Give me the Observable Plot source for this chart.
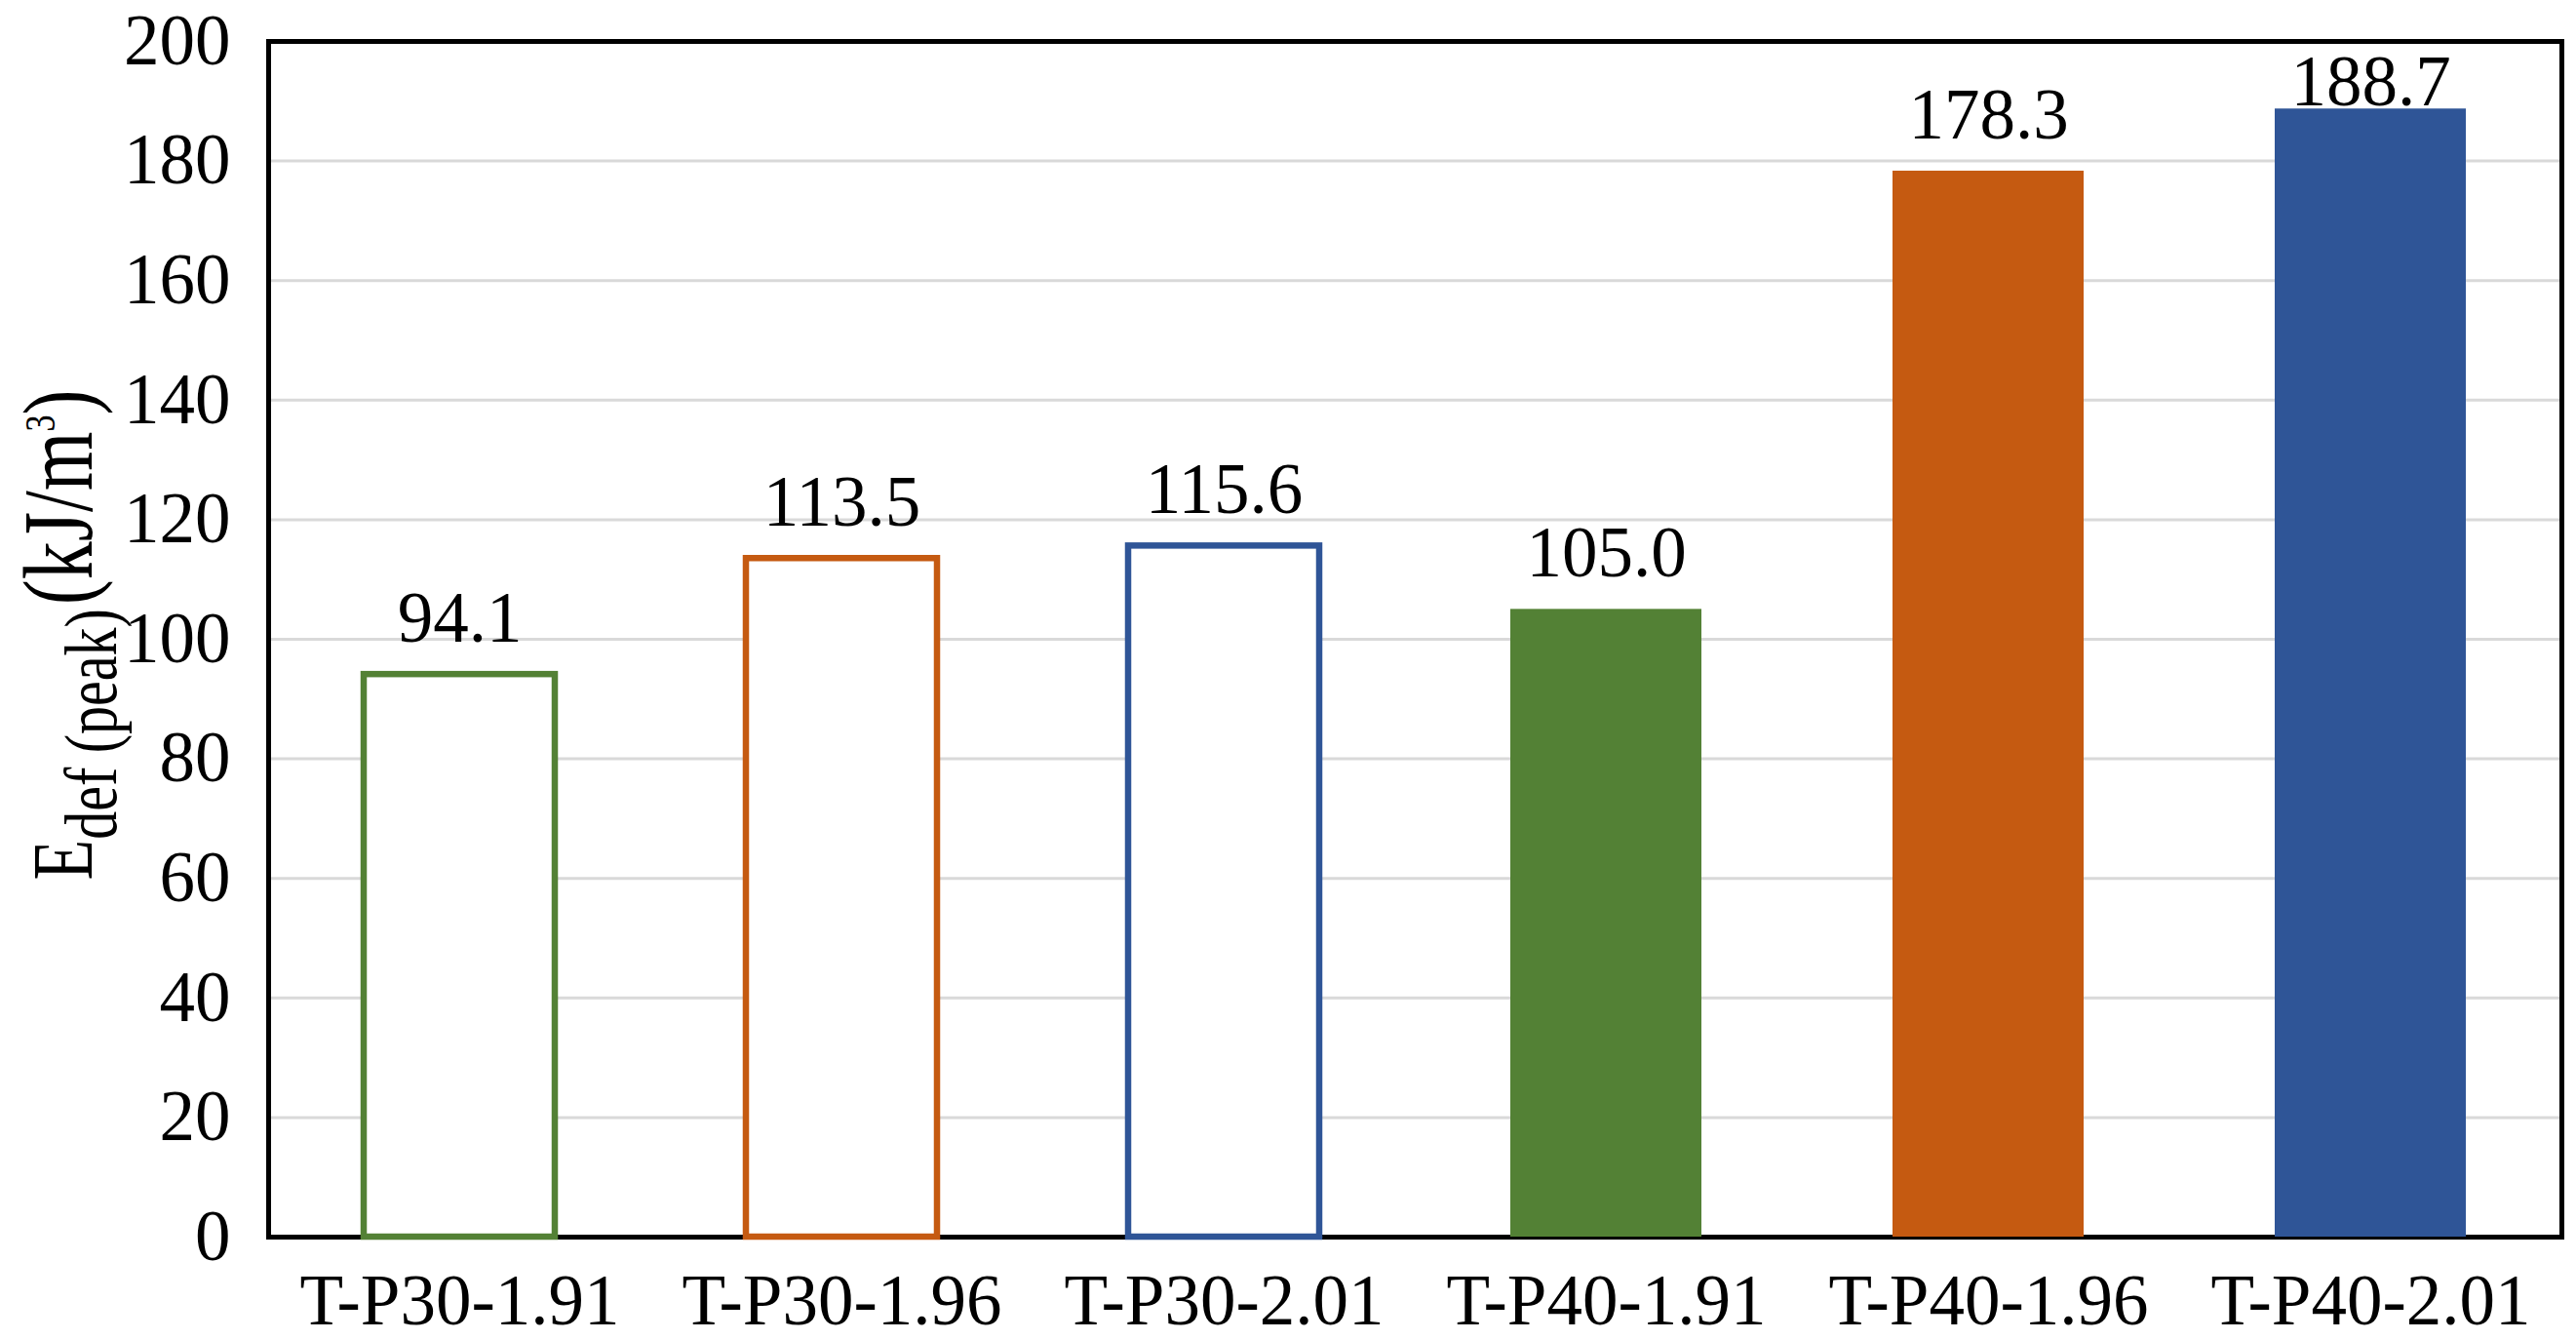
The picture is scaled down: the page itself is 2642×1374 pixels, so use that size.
<!DOCTYPE html>
<html>
<head>
<meta charset="utf-8">
<script src="https://cdn.jsdelivr.net/npm/d3@7"></script>
<script src="https://cdn.jsdelivr.net/npm/@observablehq/plot@0.6"></script>
<style>
  html, body { margin: 0; padding: 0; background: #fff; }
  #chart svg { display: block; }
</style>
</head>
<body>
<div id="chart"></div>
<script>
const categories = ["T-P30-1.91", "T-P30-1.96", "T-P30-2.01", "T-P40-1.91", "T-P40-1.96", "T-P40-2.01"];
const values = [94.1, 113.5, 115.6, 105.0, 178.3, 188.7];
const colors = ["#538135", "#C55A11", "#2F5597", "#538135", "#C55A11", "#2F5597"];
const filled = [false, false, false, true, true, true];
const yTicks = [0, 20, 40, 60, 80, 100, 120, 140, 160, 180, 200];

const data = categories.map((c, i) => ({cat: c, value: values[i], color: colors[i], filled: filled[i], label: values[i].toFixed(1)}));

const W = 2642, H = 1374;
const font = "'Liberation Serif', 'Times New Roman', serif";

const chart = Plot.plot({
  width: W,
  height: H,
  marginLeft: 275,
  marginRight: 15,
  marginTop: 42,
  marginBottom: 106,
  style: {fontFamily: font, fontSize: "72px", color: "#000", background: "#fff"},
  x: {type: "band", domain: categories, paddingInner: 0.5, paddingOuter: 0.25, label: null},
  y: {domain: [0, 200], label: null},
  marks: [
    Plot.gridY(yTicks, {stroke: "#d9d9d9", strokeOpacity: 1, strokeWidth: 3}),
    Plot.frame({stroke: "#000", strokeWidth: 5}),
    Plot.barY(data.filter(d => d.filled), {x: "cat", y: "value", fill: "color"}),
    Plot.barY(data.filter(d => !d.filled), {x: "cat", y: "value", fill: "#fff", stroke: "color", strokeWidth: 6.5}),
    Plot.axisY(yTicks, {tickSize: 0, tickPadding: 39, fontSize: 73, fill: "#000", label: null}),
    Plot.axisX({tickSize: 0, tickPadding: 38, fontSize: 73, fill: "#000", label: null}),
    Plot.text(data, {x: "cat", y: d => Math.min(d.value + 5.5, 189.3), text: "label", lineAnchor: "bottom", fontSize: 73, fill: "#000"})
  ]
});

document.getElementById("chart").appendChild(chart);

// Rotated y-axis title with subscript / superscript as real text
const svg = d3.select(chart);
const yScale = chart.scale("y");
const cy = (yScale.apply(0) + yScale.apply(200)) / 2 - 4;
const t = svg.append("text")
  .attr("transform", `translate(94,${cy}) rotate(-90) scale(1,1.3)`)
  .attr("text-anchor", "middle")
  .attr("font-family", font)
  .attr("font-size", 68)
  .attr("fill", "#000");
t.append("tspan").text("E");
t.append("tspan").attr("font-size", 58).attr("dy", 19).text("def (peak)");
t.append("tspan").attr("font-size", 78).attr("dy", -19).attr("dx", 4).text("(kJ/m");
t.append("tspan").attr("font-size", 34).attr("dy", -29).text("3");
t.append("tspan").attr("font-size", 78).attr("dy", 29).text(")");
</script>
</body>
</html>
